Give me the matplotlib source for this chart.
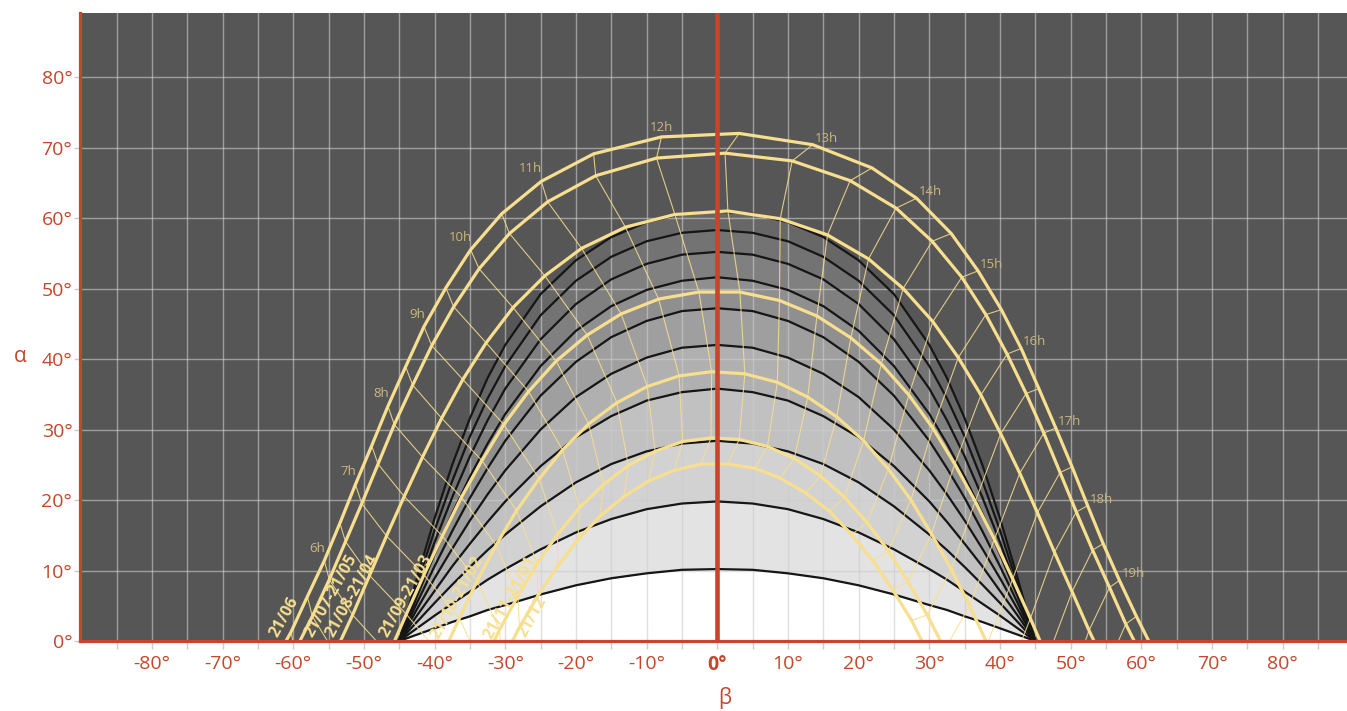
import numpy as np
import matplotlib
matplotlib.use("Agg")
import matplotlib.pyplot as plt

# sun path: beta / alpha every half hour, from the start hour of each day
date_labels = ['21/06', '21/07-21/05', '21/08-21/04', '21/09-21/03',
               '21/10-21/02', '21/11-21/01', '21/12']
start_hour = [4.5, 4.5, 5.0, 5.5, 6.0, 6.5, 7.0]

b_jun = [-62.9, -60.3, -58.0, -55.6, -53.4, -51.2, -48.9, -46.6, -44.1, -41.5, -38.4, -34.9,
         -30.5, -24.9, -17.5, -7.9, 3.1, 13.5, 21.9, 28.2, 33.1, 36.9, 40.2, 43.0, 45.5, 47.9,
         50.2, 52.4, 54.6, 56.9, 59.3, 61.7]
a_jun = [-3.4, 1.3, 6.3, 11.4, 16.7, 22.2, 27.7, 33.3, 38.9, 44.6, 50.1, 55.5, 60.6, 65.2,
         69.1, 71.5, 72.0, 70.4, 67.1, 62.8, 57.8, 52.5, 47.0, 41.5, 35.8, 30.2, 24.7, 19.2,
         13.8, 8.6, 3.5, -1.3]
b_jul = [-62.4, -59.8, -57.3, -54.9, -52.6, -50.3, -48.0, -45.7, -43.1, -40.4, -37.3, -33.7,
         -29.4, -24.0, -17.2, -8.6, 1.1, 10.6, 18.8, 25.3, 30.4, 34.6, 38.0, 41.0, 43.7, 46.2,
         48.5, 50.8, 53.1, 55.5, 57.8, 60.3]
a_jul = [-6.3, -1.5, 3.5, 8.7, 14.1, 19.5, 25.1, 30.7, 36.3, 41.9, 47.4, 52.8, 57.8, 62.3,
         66.0, 68.5, 69.2, 68.1, 65.3, 61.4, 56.7, 51.6, 46.3, 40.7, 35.1, 29.5, 23.9, 18.3,
         12.9, 7.6, 2.4, -2.6]
b_aug = [-56.6, -54.1, -51.6, -49.2, -46.8, -44.3, -41.7, -39.0, -36.0, -32.7, -28.9, -24.4,
         -19.2, -13.0, -6.0, 1.5, 8.9, 15.6, 21.4, 26.3, 30.5, 34.1, 37.3, 40.1, 42.8, 45.3,
         47.7, 50.2, 52.6, 55.1, 57.7]
a_aug = [-6.9, -1.7, 3.7, 9.3, 14.9, 20.5, 26.1, 31.6, 37.1, 42.3, 47.3, 51.8, 55.7, 58.7,
         60.5, 61.0, 59.9, 57.6, 54.2, 50.0, 45.3, 40.2, 34.9, 29.4, 23.8, 18.2, 12.6, 7.0,
         1.5, -3.8, -9.0]
b_sep = [-49.0, -46.5, -44.0, -41.5, -38.9, -36.2, -33.3, -30.2, -26.7, -22.8, -18.4, -13.6,
         -8.3, -2.6, 3.2, 8.8, 14.1, 18.9, 23.2, 27.1, 30.5, 33.6, 36.5, 39.2, 41.8, 44.3,
         46.7, 49.3, 51.8]
a_sep = [-7.5, -1.9, 3.8, 9.4, 14.9, 20.4, 25.6, 30.7, 35.4, 39.7, 43.4, 46.4, 48.5, 49.5,
         49.5, 48.3, 46.1, 43.0, 39.3, 34.9, 30.2, 25.1, 19.8, 14.4, 8.8, 3.2, -2.4, -8.0, -13.5]
b_oct = [-41.5, -39.0, -36.5, -34.0, -31.3, -28.4, -25.2, -21.9, -18.2, -14.2, -9.9, -5.4,
         -0.8, 3.9, 8.5, 12.8, 16.9, 20.7, 24.2, 27.4, 30.3, 33.1, 35.7, 38.2, 40.7, 43.1]
a_oct = [-7.8, -2.2, 3.2, 8.5, 13.6, 18.5, 23.0, 27.1, 30.8, 33.8, 36.1, 37.6, 38.2, 37.9,
         36.7, 34.6, 31.8, 28.4, 24.4, 20.0, 15.2, 10.2, 5.0, -0.4, -6.0, -11.5]
b_nov = [-35.6, -33.3, -30.8, -28.2, -25.5, -22.6, -19.5, -16.1, -12.6, -8.8, -4.9, -0.9,
         3.1, 7.1, 10.9, 14.6, 18.0, 21.2, 24.2, 27.0, 29.7, 32.2, 34.6]
a_nov = [-8.7, -3.5, 1.6, 6.4, 11.0, 15.1, 18.9, 22.2, 24.9, 26.9, 28.3, 28.8, 28.6, 27.6,
         25.9, 23.4, 20.4, 16.8, 12.8, 8.4, 3.7, -1.2, -6.4]
b_dec = [-32.8, -30.5, -28.0, -25.4, -22.6, -19.7, -16.6, -13.2, -9.7, -6.1, -2.3, 1.5, 5.3,
         8.9, 12.5, 15.9, 19.0, 22.0, 24.8, 27.5, 29.9]
a_dec = [-7.9, -2.9, 1.9, 6.4, 10.6, 14.4, 17.7, 20.5, 22.7, 24.2, 25.1, 25.1, 24.5, 23.1,
         21.0, 18.4, 15.1, 11.4, 7.3, 2.9, -1.9]

# shading mask: alpha of each line at |beta| = 0 .. 45 (same on both sides)
mask_beta = [0, 5, 10, 15, 20, 25, 30, 32.5, 35, 37.5, 40, 42.5, 45]
mask_lines = [
    [10.2, 10.1, 9.6, 8.9, 7.9, 6.6, 5.1, 4.4, 3.5, 2.7, 1.8, 0.9, 0],
    [19.8, 19.5, 18.7, 17.3, 15.4, 13.0, 10.2, 8.7, 7.0, 5.3, 3.6, 1.8, 0],
    [28.4, 28.0, 26.9, 25.1, 22.5, 19.1, 15.1, 12.9, 10.5, 8.0, 5.4, 2.7, 0],
    [35.8, 35.3, 34.1, 31.9, 28.9, 24.8, 19.8, 16.9, 13.8, 10.6, 7.1, 3.6, 0],
    [42.0, 41.6, 40.2, 37.9, 34.6, 30.0, 24.2, 20.8, 17.1, 13.1, 8.9, 4.5, 0],
    [47.2, 46.8, 45.4, 43.1, 39.6, 34.8, 28.4, 24.5, 20.3, 15.6, 10.6, 5.4, 0],
    [51.6, 51.1, 49.8, 47.5, 44.0, 39.0, 32.2, 28.0, 23.3, 18.1, 12.3, 6.3, 0],
    [55.2, 54.8, 53.5, 51.3, 47.8, 42.8, 35.8, 31.3, 26.2, 20.4, 14.0, 7.2, 0],
    [58.3, 57.9, 56.7, 54.5, 51.1, 46.2, 39.0, 34.4, 29.0, 22.7, 15.7, 8.0, 0],
    [60.9, 60.6, 59.4, 57.3, 54.0, 49.2, 42.0, 37.3, 31.6, 25.0, 17.4, 8.9, 0],
]
band_colors = ['#ffffff', '#e3e3e3', '#d2d2d2', '#c1c1c1', '#b0b0b0',
               '#9f9f9f', '#8f8f8f', '#808080', '#737373', '#676767']

betas = [b_jun, b_jul, b_aug, b_sep, b_oct, b_nov, b_dec]
alphas = [a_jun, a_jul, a_aug, a_sep, a_oct, a_nov, a_dec]

red = '#c4462b'
yellow = '#f7df8f'
plt.rcParams['font.family'] = ['Open Sans', 'DejaVu Sans']

fig = plt.figure(figsize=(13.47, 7.11), dpi=100)
ax = fig.add_axes([80/1347, 70/711, 1267/1347, 628/711])
ax.set_xlim(-90.17, 89.1)
ax.set_ylim(0, 89.08)
ax.set_facecolor('#565656')

mb = [-v for v in mask_beta[::-1]] + mask_beta[1:]
lower = [0]*len(mb)
for m, c in zip(mask_lines, band_colors):
    arc = m[::-1] + m[1:]
    ax.fill_between(mb, lower, arc, color=c, lw=0, zorder=1)
    ax.plot(mb, arc, color='#161616', lw=1.6, zorder=2)
    lower = arc

# hour lines through the same time on every day
pts = {}
for h0, bs, als in zip(start_hour, betas, alphas):
    for i, (b, a) in enumerate(zip(bs, als)):
        pts.setdefault(h0 + 0.5*i, []).append((b, a))
for t, p in pts.items():
    if len(p) > 1:
        xs, ys = zip(*p)
        ax.plot(xs, ys, color=yellow, lw=0.8, alpha=0.85, zorder=3)

for bs, als in zip(betas, alphas):
    ax.plot(bs, als, color=yellow, lw=2.3, zorder=4)

for i, (b, a) in enumerate(zip(b_jun, a_jun)):
    t = start_hour[0] + 0.5*i
    if t != int(t) or t < 6 or a < 0:
        continue
    if t < 12:
        kw = dict(xytext=(1, 6), ha='right')
    elif t == 12:
        kw = dict(xytext=(0, 3), ha='center')
    else:
        kw = dict(xytext=(2, 0), ha='left')
    ax.annotate(f"{int(t)}h", (b, a), textcoords='offset pixels', va='bottom',
                color='#cbb77f', fontsize=9.5, zorder=5, **kw)

label_pos = [(-61.2, 3.4), (-54.6, 6.4), (-51.6, 6.4), (-44.0, 6.4),
             (-36.8, 6.2), (-29.3, 6.2), (-26.1, 3.4)]
for txt, (x, y) in zip(date_labels, label_pos):
    ax.text(x, y, txt, rotation=61, rotation_mode='anchor', ha='center', va='center',
            color=yellow, fontsize=11.5, fontweight='bold', zorder=5)

ax.axvline(0, color=red, lw=3.3, zorder=6)

xt = np.arange(-85, 90, 5)
ax.set_xticks(xt)
ax.set_xticklabels([f"{v}°" if v % 10 == 0 else "" for v in xt])
for lab, v in zip(ax.get_xticklabels(), xt):
    if v == 0:
        lab.set_fontweight('bold')
ax.set_yticks(np.arange(0, 90, 10))
ax.set_yticklabels([f"{v}°" for v in range(0, 90, 10)])
ax.tick_params(axis='both', color='#cccccc', labelcolor=red, labelsize=14, width=1)
ax.tick_params(axis='x', length=6, pad=4)
ax.tick_params(axis='y', length=4.5, pad=1)
ax.grid(True, color='#cccccc', alpha=0.62, lw=1.0)
ax.set_axisbelow('line')
for s in ['top', 'right']:
    ax.spines[s].set_visible(False)
for s in ['left', 'bottom']:
    ax.spines[s].set_color(red)
    ax.spines[s].set_linewidth(2.3)
    ax.spines[s].set_zorder(7)

fig.text(725/1347, 1-698/711, 'β', color=red, fontsize=15, ha='center', va='center')
fig.text(20/1347, 1-357/711, 'α', color=red, fontsize=15, ha='center', va='center')

fig.savefig("out.png", dpi=100)
